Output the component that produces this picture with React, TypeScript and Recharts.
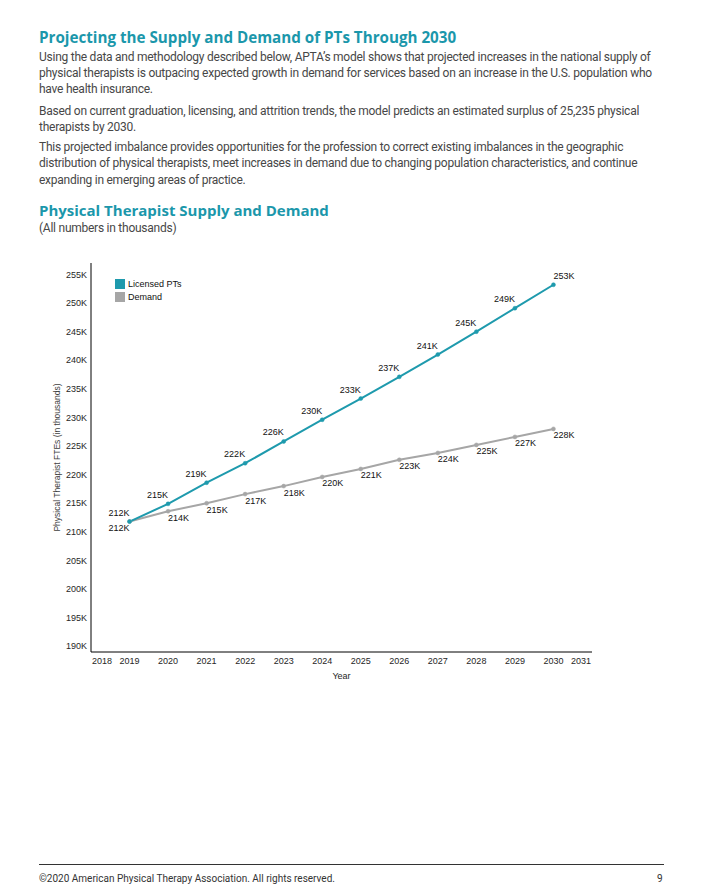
import React from 'react';
import { LineChart, Line, XAxis, YAxis, LabelList, Label } from 'recharts';

const years = [2019, 2020, 2021, 2022, 2023, 2024, 2025, 2026, 2027, 2028, 2029, 2030];
// thousands of FTEs, estimated from the plotted points (labels show rounded values)
const licensedPTs = [211.8, 214.9, 218.6, 222.0, 225.8, 229.6, 233.3, 237.1, 241.0, 245.0, 249.1, 253.2];
const demand = [211.8, 213.6, 215.0, 216.6, 218.0, 219.6, 221.0, 222.6, 223.8, 225.2, 226.6, 228.0];
const xTicks = [2018, 2019, 2020, 2021, 2022, 2023, 2024, 2025, 2026, 2027, 2028, 2029, 2030, 2031];
const yTicks = [190, 195, 200, 205, 210, 215, 220, 225, 230, 235, 240, 245, 250, 255];

const TEAL = '#1E9AAD';
const GRAY = '#A6A6A6';
const HEAD = '#1B97AB';
const BODY = '#474747';
const CHART_FONT = '"Liberation Sans", Arial, sans-serif';

const data = years.map((year, i) => ({ year, supply: licensedPTs[i], demand: demand[i] }));

const legendItems = [
  { name: 'Licensed PTs', color: TEAL },
  { name: 'Demand', color: GRAY },
];

const bodyLines = [
  { top: 49, text: "Using the data and methodology described below, APTA\u2019s model shows that projected increases in the national supply of" },
  { top: 65, text: 'physical therapists is outpacing expected growth in demand for services based on an increase in the U.S. population who' },
  { top: 81, text: 'have health insurance.' },
  { top: 103, text: 'Based on current graduation, licensing, and attrition trends, the model predicts an estimated surplus of 25,235 physical' },
  { top: 119, text: 'therapists by 2030.' },
  { top: 139, text: 'This projected imbalance provides opportunities for the profession to correct existing imbalances in the geographic' },
  { top: 155, text: 'distribution of physical therapists, meet increases in demand due to changing population characteristics, and continue' },
  { top: 172, text: 'expanding in emerging areas of practice.' },
];

const fmtK = (v: number) => `${Math.round(v)}K`;

function XTick(props: any) {
  const { x, y, payload, index } = props;
  const last = xTicks.length - 1;
  let anchor: 'start' | 'middle' | 'end' = 'middle';
  let tx = x;
  if (index === 0) { anchor = 'start'; tx = x + 1; }
  if (index === last) { anchor = 'end'; tx = x - 1; }
  return (
    <text x={tx} y={y} dy="0.71em" textAnchor={anchor} fontSize={9} fontFamily={CHART_FONT} fill="#262626">
      {payload.value}
    </text>
  );
}

// supply labels sit above-left of the point, the last one above-right
function SupplyLabel(props: any) {
  const { x, y, value, index } = props;
  const last = index === years.length - 1;
  return (
    <text x={x} y={y - 6} textAnchor={last ? 'start' : 'end'} fontSize={9} fontFamily={CHART_FONT} fill="#111">
      {fmtK(value)}
    </text>
  );
}

// demand labels sit below-right, the first one below-left
function DemandLabel(props: any) {
  const { x, y, value, index } = props;
  return (
    <text x={x} y={y + 9.5} textAnchor={index === 0 ? 'end' : 'start'} fontSize={9} fontFamily={CHART_FONT} fill="#111">
      {fmtK(value)}
    </text>
  );
}

export default function App() {
  return (
    <div style={{ position: 'absolute', left: 0, top: 0, width: 702, height: 889, background: '#fff', fontFamily: 'Roboto, sans-serif' }}>
      <div style={{ position: 'absolute', left: 39, top: 27, lineHeight: '20px', fontFamily: '"Open Sans", sans-serif', fontWeight: 700, fontSize: 15.2, color: HEAD, whiteSpace: 'nowrap' }}>
        Projecting the Supply and Demand of PTs Through 2030
      </div>
      {bodyLines.map((l) => (
        <div key={l.top} style={{ position: 'absolute', left: 39, top: l.top, lineHeight: '16px', fontSize: 12, color: BODY, whiteSpace: 'nowrap', letterSpacing: -0.25 }}>
          {l.text}
        </div>
      ))}
      <div style={{ position: 'absolute', left: 39, top: 200, lineHeight: '20px', fontFamily: '"Open Sans", sans-serif', fontWeight: 700, fontSize: 15, color: HEAD, whiteSpace: 'nowrap' }}>
        Physical Therapist Supply and Demand
      </div>
      <div style={{ position: 'absolute', left: 39, top: 220, lineHeight: '16px', fontSize: 12, color: BODY, whiteSpace: 'nowrap', letterSpacing: -0.25 }}>
        (All numbers in thousands)
      </div>

      <div style={{ position: 'absolute', left: 0, top: 240 }}>
        <LineChart width={702} height={460} data={data} margin={{ top: 23, right: 110, bottom: 18, left: 31 }}>
          <XAxis
            dataKey="year"
            type="number"
            domain={[2018, 2031]}
            ticks={xTicks}
            interval={0}
            tickSize={0}
            tickMargin={6}
            height={30}
            axisLine={{ stroke: '#000', strokeWidth: 1 }}
            tick={<XTick />}
          >
            <Label
              content={(p: any) => (
                <text x={p.viewBox.x + p.viewBox.width / 2} y={p.viewBox.y + 27} textAnchor="middle" fontSize={9} fontFamily={CHART_FONT} fill="#262626">
                  Year
                </text>
              )}
            />
          </XAxis>
          <YAxis
            type="number"
            domain={[189, 257]}
            ticks={yTicks}
            interval={0}
            width={60}
            tickSize={0}
            tickMargin={4}
            axisLine={{ stroke: '#000', strokeWidth: 1 }}
            tickFormatter={(v: number) => `${v}K`}
            tick={{ fontSize: 9, fontFamily: CHART_FONT, fill: '#262626' }}
          >
            <Label
              content={(p: any) => {
                const cx = p.viewBox.x + 26;
                const cy = p.viewBox.y + p.viewBox.height / 2;
                return (
                  <text x={cx} y={cy} transform={`rotate(-90, ${cx}, ${cy})`} textAnchor="middle" dominantBaseline="central" fontSize={8.5} fontFamily={CHART_FONT} fill="#404040">
                    Physical Therapist FTEs (in thousands)
                  </text>
                );
              }}
            />
          </YAxis>
          <Line
            type="linear"
            dataKey="demand"
            name="Demand"
            stroke={GRAY}
            strokeWidth={2}
            dot={{ r: 2, fill: GRAY, stroke: GRAY, strokeWidth: 0.5 }}
            activeDot={false}
            isAnimationActive={false}
          >
            <LabelList dataKey="demand" content={<DemandLabel />} />
          </Line>
          <Line
            type="linear"
            dataKey="supply"
            name="Licensed PTs"
            stroke={TEAL}
            strokeWidth={2}
            dot={{ r: 2, fill: TEAL, stroke: TEAL, strokeWidth: 0.5 }}
            activeDot={false}
            isAnimationActive={false}
          >
            <LabelList dataKey="supply" content={<SupplyLabel />} />
          </Line>
        </LineChart>
        {/* legend drawn inside the plot area, top-left */}
        <div style={{ position: 'absolute', left: 115, top: 37, fontFamily: CHART_FONT, fontSize: 9, color: '#111' }}>
          {legendItems.map((it) => (
            <div key={it.name} style={{ display: 'flex', alignItems: 'center', height: 13 }}>
              <div style={{ width: 10, height: 10, background: it.color, marginRight: 3 }} />
              <span>{it.name}</span>
            </div>
          ))}
        </div>
      </div>

      <div style={{ position: 'absolute', left: 39, top: 864, width: 625, height: 1, background: '#333' }} />
      <div style={{ position: 'absolute', left: 39, top: 872, lineHeight: '14px', fontSize: 10, color: '#333', whiteSpace: 'nowrap' }}>
        ©2020 American Physical Therapy Association. All rights reserved.
      </div>
      <div style={{ position: 'absolute', left: 657, top: 872, lineHeight: '14px', fontSize: 10, color: '#333' }}>9</div>
    </div>
  );
}
